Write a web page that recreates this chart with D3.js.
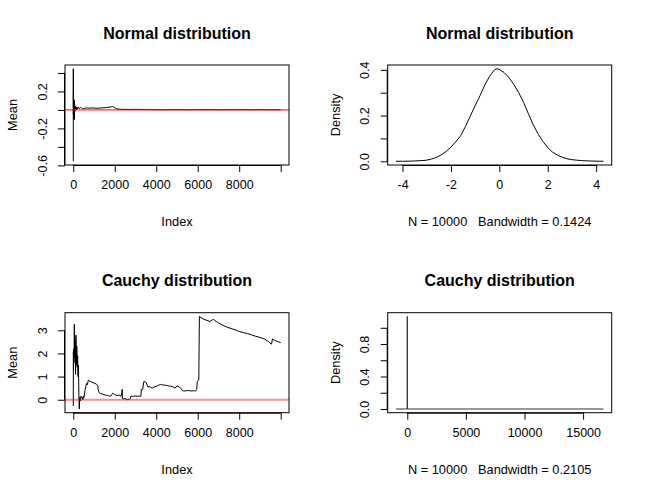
<!DOCTYPE html>
<html><head><meta charset="utf-8">
<script src="https://cdn.jsdelivr.net/npm/d3@7"></script>
<style>
body{margin:0;background:#fff;}
svg{display:block;}
text{font-family:"Liberation Sans",Arial,Helvetica,sans-serif;fill:#000;white-space:pre;}
</style></head>
<body>
<svg id="chart" width="645" height="494"></svg>
<script>
// ---------- DATA ----------
// Normal distribution: running mean
const normIdx  = [1, 2, 3, 5, 8, 12, 18, 25, 35, 45, 55, 65, 75, 90, 110, 130, 150, 180, 210, 250, 300, 350, 400, 450, 500, 600, 700, 800, 900, 1000, 1200, 1400, 1600, 1800, 1900, 2000, 2100, 2200, 2400, 2700, 3000, 3500, 4000, 4500, 5000, 5500, 6000, 6500, 7000, 7500, 8000, 8500, 9000, 9500, 10000];
const normMean = [-0.556, 0.446, 0.15, -0.05, 0.2, 0.1, -0.1, 0.05, -0.08, 0.11, -0.105, 0.055, -0.02, 0.04, 0.01, 0.035, 0.0, 0.03, 0.01, 0.03, 0.015, 0.028, 0.02, 0.01, 0.015, 0.02, 0.022, 0.018, 0.022, 0.02, 0.018, 0.022, 0.026, 0.032, 0.036, 0.025, 0.012, 0.008, 0.006, 0.005, 0.006, 0.004, 0.003, 0.002, 0.003, 0.002, 0.004, 0.003, 0.002, 0.003, 0.004, 0.002, 0.003, 0.002, 0.002];

// Normal distribution: density estimate
const normDensX = [-4.27, -4.0, -3.6, -3.2, -3.0, -2.8, -2.6, -2.4, -2.2, -2.0, -1.8, -1.6, -1.4, -1.2, -1.0, -0.8, -0.6, -0.4, -0.2, -0.1, 0.0, 0.2, 0.4, 0.6, 0.8, 1.0, 1.2, 1.4, 1.6, 1.8, 2.0, 2.2, 2.4, 2.6, 2.8, 3.0, 3.4, 3.8, 4.30];
const normDensY = [0.000, 0.0002, 0.001, 0.003, 0.005, 0.010, 0.017, 0.028, 0.043, 0.062, 0.085, 0.112, 0.152, 0.198, 0.243, 0.287, 0.334, 0.372, 0.400, 0.405, 0.402, 0.388, 0.366, 0.336, 0.300, 0.258, 0.208, 0.160, 0.120, 0.087, 0.060, 0.040, 0.027, 0.018, 0.011, 0.007, 0.003, 0.001, 0.000];

// Cauchy distribution: running mean
const cauIdx  = [1, 5, 10, 20, 35, 50, 70, 90, 110, 130, 150, 170, 190, 210, 230, 250, 270, 290, 310, 340, 370, 400, 430, 460, 490, 520, 560, 600, 640, 680, 725, 800, 900, 1000, 1100, 1180, 1200, 1250, 1300, 1400, 1500, 1600, 1700, 1800, 1840, 1900, 1950, 2000, 2100, 2200, 2300, 2340, 2360, 2370, 2400, 2500, 2600, 2700, 2750, 2780, 2900, 3000, 3100, 3200, 3260, 3280, 3300, 3350, 3400, 3420, 3500, 3580, 3600, 3700, 3800, 3900, 4000, 4100, 4200, 4300, 4400, 4500, 4600, 4700, 4800, 4900, 5000, 5100, 5200, 5250, 5300, 5400, 5500, 5600, 5700, 5800, 5900, 5950, 5980, 6050, 6080, 6100, 6200, 6300, 6400, 6500, 6600, 6700, 6750, 6800, 6900, 7000, 7200, 7400, 7600, 7800, 8000, 8200, 8400, 8600, 8800, 9000, 9200, 9400, 9550, 9570, 9600, 9700, 9800, 9900, 10000];
const cauMean = [-0.27, 2.07, 1.3, 2.2, 1.6, 3.26, 1.8, 2.6, 1.1, 2.79, 1.5, 2.3, 1.4, 1.9, 1.0, 1.5, 0.2, -0.4, 0.1, -0.05, 0.15, 0.09, 0.12, 0.0, 0.15, 0.1, 0.4, 0.55, 0.7, 0.65, 0.85, 0.8, 0.76, 0.72, 0.68, 0.62, 0.45, 0.3, 0.27, 0.25, 0.21, 0.19, 0.17, 0.15, 0.2, 0.28, 0.26, 0.22, 0.18, 0.2, 0.15, 0.3, 0.45, 0.05, 0.03, 0.05, 0.0, 0.02, 0.05, 0.15, 0.15, 0.16, 0.15, 0.16, 0.15, 0.45, 0.42, 0.47, 0.78, 0.8, 0.76, 0.6, 0.55, 0.56, 0.5, 0.55, 0.58, 0.62, 0.66, 0.64, 0.63, 0.62, 0.6, 0.58, 0.56, 0.5, 0.6, 0.57, 0.48, 0.4, 0.38, 0.38, 0.4, 0.39, 0.38, 0.39, 0.38, 0.45, 0.8, 0.85, 3.6, 3.58, 3.53, 3.48, 3.44, 3.41, 3.38, 3.45, 3.47, 3.44, 3.38, 3.32, 3.22, 3.14, 3.08, 3.02, 2.95, 2.9, 2.86, 2.8, 2.74, 2.69, 2.63, 2.52, 2.40, 2.45, 2.62, 2.57, 2.53, 2.5, 2.47];

// Cauchy distribution: density estimate
const cauDensX = [-964, -10, -2, 0, 2, 10, 16732];
const cauDensY = [0.0, 0.0, 0.05, 1.14, 0.05, 0.0, 0.0];

// Ticks and labels
const tlXTicks = [0, 2000, 4000, 6000, 8000, 10000];
const tlXLabels = ["0", "2000", "4000", "6000", "8000", ""];
const tlYTicks = [-0.6, -0.4, -0.2, 0, 0.2, 0.4];
const tlYLabels = ["-0.6", "", "-0.2", "", "0.2", ""];
const trXTicks = [-4, -2, 0, 2, 4];
const trXLabels = ["-4", "-2", "0", "2", "4"];
const trYTicks = [0, 0.1, 0.2, 0.3, 0.4];
const trYLabels = ["0.0", "", "0.2", "", "0.4"];
const blXTicks = [0, 2000, 4000, 6000, 8000, 10000];
const blXLabels = ["0", "2000", "4000", "6000", "8000", ""];
const blYTicks = [0, 1, 2, 3];
const blYLabels = ["0", "1", "2", "3"];
const brXTicks = [0, 5000, 10000, 15000];
const brXLabels = ["0", "5000", "10000", "15000"];
const brYTicks = [0, 0.2, 0.4, 0.6, 0.8, 1.0];
const brYLabels = ["0.0", "", "0.4", "", "0.8", ""];

const titles = ["Normal distribution", "Normal distribution", "Cauchy distribution", "Cauchy distribution"];
const xLabs = ["Index", "N = 10000   Bandwidth = 0.1424", "Index", "N = 10000   Bandwidth = 0.2105"];
const yLabs = ["Mean", "Density", "Mean", "Density"];

// ---------- DRAW ----------
const svg = d3.select("#chart");
const TICK = 12.5, LAB = 12.8, TITLE = 16;

function padExtent(arr){
  const [a,b] = d3.extent(arr); const d = (b-a)*0.04; return [a-d, b+d];
}

function panel(o){
  const g = svg.append("g");
  const x = d3.scaleLinear().domain(padExtent(o.xs)).range([o.x0, o.x1]);
  const y = d3.scaleLinear().domain(padExtent(o.ys)).range([o.y1, o.y0]);
  const clipId = "clip" + o.id;
  svg.append("clipPath").attr("id", clipId).append("rect")
    .attr("x", o.x0).attr("y", o.y0).attr("width", o.x1-o.x0).attr("height", o.y1-o.y0);
  const pts = o.xs.map((v,i)=>[v, o.ys[i]]);
  const line = d3.line().x(d=>x(d[0])).y(d=>y(d[1]));
  const pg = g.append("g").attr("clip-path", `url(#${clipId})`);
  pg.append("path").datum(pts).attr("d", line).attr("fill","none")
    .attr("stroke", o.lineColor || "#000").attr("stroke-width",1).attr("stroke-linejoin","round");
  if (o.hline){
    pg.append("line").attr("x1",o.x0).attr("x2",o.x1)
      .attr("y1",y(0)).attr("y2",y(0))
      .attr("stroke", o.hline.color).attr("stroke-width", o.hline.width)
      .attr("stroke-opacity", o.hline.opacity);
  }
  g.append("rect").attr("x",o.x0).attr("y",o.y0).attr("width",o.x1-o.x0).attr("height",o.y1-o.y0)
    .attr("fill","none").attr("stroke","#000").attr("stroke-width",1);
  const xa = g.append("g").attr("transform",`translate(0,${o.y1})`)
    .call(d3.axisBottom(x).tickValues(o.xt).tickFormat((d,i)=>o.xl[i]).tickSize(7).tickPadding(8).tickSizeOuter(0));
  xa.select(".domain").attr("d", `M${x(o.xt[0])},0.5H${x(o.xt[o.xt.length-1])}`);
  xa.selectAll("text").attr("font-size", TICK).attr("font-family",null);
  const ya = g.append("g").attr("transform",`translate(${o.x0},0)`)
    .call(d3.axisLeft(y).tickValues(o.yt).tickFormat((d,i)=>o.yl[i]).tickSize(7).tickSizeOuter(0));
  ya.select(".domain").attr("d", `M-0.5,${y(o.yt[0])}V${y(o.yt[o.yt.length-1])}`);
  ya.selectAll(".tick text").attr("font-size", TICK).attr("font-family",null)
    .attr("x", null).attr("dy", null)
    .attr("transform","rotate(-90)")
    .attr("text-anchor","middle")
    .attr("y", -18.3);
  g.append("text").attr("x",(o.x0+o.x1)/2).attr("y",o.y0-26.5).attr("text-anchor","middle")
    .attr("font-size",TITLE).attr("font-weight","bold").text(o.title);
  g.append("text").attr("x",(o.x0+o.x1)/2).attr("y",o.y1+61).attr("text-anchor","middle")
    .attr("xml:space","preserve")
    .attr("font-size",LAB).text(o.xlab);
  g.append("text").attr("transform",`translate(${o.x0-48},${(o.y0+o.y1)/2}) rotate(-90)`)
    .attr("text-anchor","middle").attr("font-size",LAB).text(o.ylab);
}

const L = [65, 289], R = [387.7, 611.7], T = [65, 165], B = [312.7, 412.7];

panel({id:1, x0:L[0], x1:L[1], y0:T[0], y1:T[1], xs:normIdx, ys:normMean,
  xt:tlXTicks, xl:tlXLabels, yt:tlYTicks, yl:tlYLabels,
  hline:{color:"#ff0000", width:1, opacity:1},
  title:titles[0], xlab:xLabs[0], ylab:yLabs[0]});
panel({id:2, x0:R[0], x1:R[1], y0:T[0], y1:T[1], xs:normDensX, ys:normDensY,
  xt:trXTicks, xl:trXLabels, yt:trYTicks, yl:trYLabels,
  title:titles[1], xlab:xLabs[1], ylab:yLabs[1]});
panel({id:3, x0:L[0], x1:L[1], y0:B[0], y1:B[1], xs:cauIdx, ys:cauMean,
  xt:blXTicks, xl:blXLabels, yt:blYTicks, yl:blYLabels,
  hline:{color:"#ff0000", width:2, opacity:0.45},
  title:titles[2], xlab:xLabs[2], ylab:yLabs[2]});
panel({id:4, x0:R[0], x1:R[1], y0:B[0], y1:B[1], xs:cauDensX, ys:cauDensY,
  xt:brXTicks, xl:brXLabels, yt:brYTicks, yl:brYLabels, lineColor:"#333",
  title:titles[3], xlab:xLabs[3], ylab:yLabs[3]});
</script>
</body></html>
